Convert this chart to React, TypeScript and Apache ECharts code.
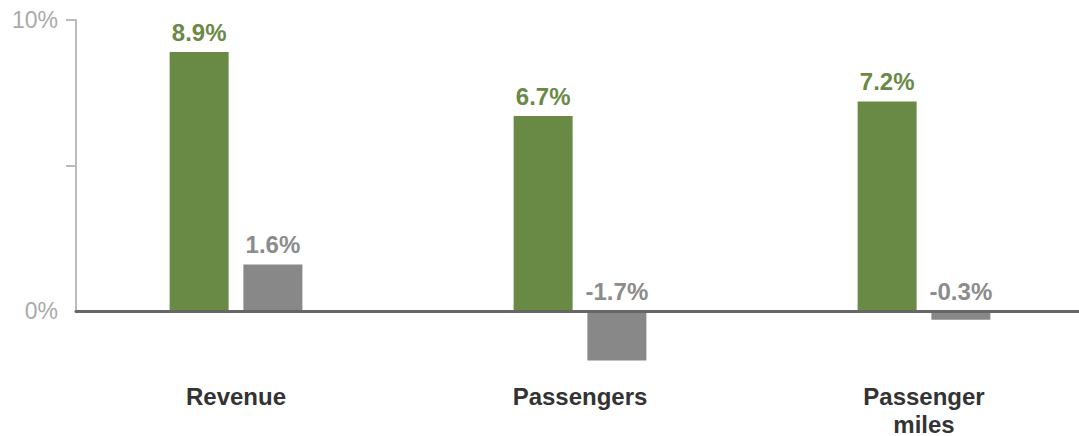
import React, { useEffect, useRef } from "react";
import * as echarts from "echarts";

const categories = ["Revenue", "Passengers", "Passenger miles"];
const greenValues = [8.9, 6.7, 7.2];
const grayValues = [1.6, -1.7, -0.3];
const labelAnchors = [0, 0, 0];
const yMin = 0;
const yMax = 10;
const yInterval = 5;
const yTickValues = [5, 10];
const yLabelValues = [0, 10];

const GREEN = "#698a45";
const GRAY = "#888888";
const FONT = "'Liberation Sans', Arial, Helvetica, sans-serif";

export default function App() {
  const ref = useRef<HTMLDivElement>(null);
  useEffect(() => {
    if (!ref.current) return;
    const chart = echarts.init(ref.current, null, { renderer: "svg" });
    const fmt = (v: number) => `${v.toFixed(1)}%`;
    chart.setOption({
      animation: false,
      textStyle: { fontFamily: FONT },
      grid: [
        { left: 64, width: 1032, top: 20, bottom: 125, outerBoundsMode: "none", containLabel: false },
        { left: 76, right: 0, top: 20, bottom: 125, outerBoundsMode: "none", containLabel: false },
      ],
      xAxis: [
        {
          type: "category",
          gridIndex: 0,
          data: categories,
          axisLine: { show: false },
          axisTick: { show: false },
          axisLabel: {
            margin: 71,
            fontSize: 24,
            fontWeight: "bold",
            color: "#333333",
            fontFamily: FONT,
            lineHeight: 28,
            formatter: (v: string) => v.replace(" ", "\n"),
          },
        },
        {
          type: "category",
          gridIndex: 1,
          data: categories,
          z: 10,
          axisLine: { show: true, lineStyle: { color: "#666666", width: 3 } },
          axisTick: { show: false },
          axisLabel: { show: false },
        },
      ],
      yAxis: [
        { type: "value", gridIndex: 0, min: yMin, max: yMax, interval: yInterval, show: false },
        {
          type: "value",
          gridIndex: 1,
          min: yMin,
          max: yMax,
          interval: yInterval,
          splitLine: { show: false },
          axisLine: { show: true, lineStyle: { color: "#bbbbbb", width: 2 } },
          axisTick: {
            show: true,
            length: 10,
            customValues: yTickValues,
            lineStyle: { color: "#bbbbbb", width: 2 },
          },
          axisLabel: {
            customValues: yLabelValues,
            margin: 18,
            fontSize: 23,
            color: "#aaaaaa",
            fontFamily: FONT,
            formatter: (v: number) => `${v}%`,
          },
        },
      ],
      series: [
        {
          type: "bar",
          name: "green",
          xAxisIndex: 0,
          yAxisIndex: 0,
          data: greenValues,
          barWidth: 59,
          barGap: "25%",
          clip: false,
          itemStyle: { color: GREEN },
          label: {
            show: true,
            position: "top",
            distance: 8,
            fontSize: 24,
            fontWeight: "bold",
            color: GREEN,
            fontFamily: FONT,
            formatter: (p: any) => fmt(p.value),
          },
        },
        {
          type: "bar",
          name: "gray",
          xAxisIndex: 0,
          yAxisIndex: 0,
          stack: "g",
          stackStrategy: "positive",
          data: grayValues,
          barWidth: 59,
          barGap: "25%",
          clip: false,
          itemStyle: { color: GRAY },
        },
        {
          type: "bar",
          name: "grayLabel",
          xAxisIndex: 0,
          yAxisIndex: 0,
          stack: "g",
          stackStrategy: "positive",
          data: labelAnchors,
          barWidth: 59,
          barGap: "25%",
          clip: false,
          itemStyle: { color: "rgba(0,0,0,0)" },
          label: {
            show: true,
            position: "top",
            distance: 8,
            fontSize: 24,
            fontWeight: "bold",
            color: "#8c8c8c",
            fontFamily: FONT,
            formatter: (p: any) => fmt(grayValues[p.dataIndex]),
          },
        },
      ],
    });
    return () => chart.dispose();
  }, []);
  return (
    <div
      ref={ref}
      style={{ position: "absolute", left: 0, top: 0, width: 1079, height: 436 }}
    />
  );
}
